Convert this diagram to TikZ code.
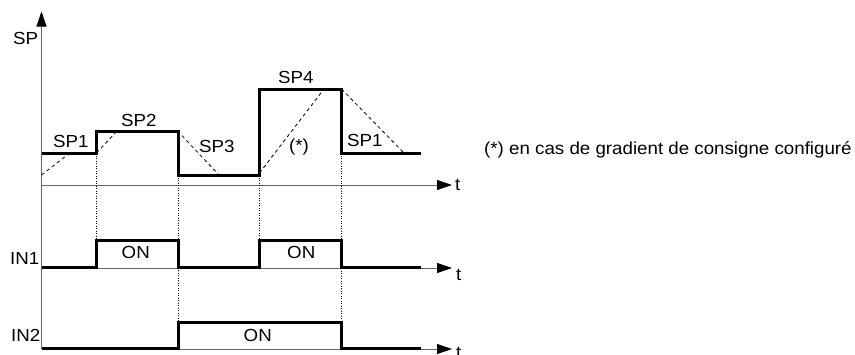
\documentclass[tikz,border=0pt]{standalone}
\usepackage{fontspec}
\setmainfont{Liberation Sans}
\usetikzlibrary{arrows.meta}

\begin{document}
\begin{tikzpicture}[x=1pt,y=-1pt,
  axis/.style={draw=black!60,line width=0.8pt,-{Triangle[length=15pt,width=10pt,color=black]}},
  signal/.style={line width=3pt,line join=miter},
  ramp/.style={line width=0.8pt,dash pattern=on 3.5pt off 3pt},
  guide/.style={line width=0.7pt,dash pattern=on 1pt off 1.5pt},
  lbl/.style={anchor=base west,inner sep=0pt,font=\fontsize{17.5}{20}\selectfont,xscale=1.07}]
  \useasboundingbox (0,0) rectangle (855,354);

  % axes
  \draw[axis] (41.5,349) -- (41.5,11.5);
  \foreach \ty in {185,268,349}
    \draw[axis] (41.5,\ty) -- (452,\ty);

  % guides between the diagrams
  \draw[guide] (96,153) -- (96,240.5);
  \draw[guide] (178,175) -- (178,322.5);
  \draw[guide] (259,175) -- (259,240.5);
  \draw[guide] (341,153) -- (341,322.5);

  % gradient ramps
  \draw[ramp] (41.5,175) -- (71,152);
  \draw[ramp] (96.5,153) -- (117,131);
  \draw[ramp] (177.5,131) -- (219,175);
  \draw[ramp] (259.5,173) -- (324,89);
  \draw[ramp] (341.5,89) -- (404,153);

  % signals
  \draw[signal] (41.5,153) -- (96,153) -- (96,131) -- (178,131) -- (178,175)
    -- (259,175) -- (259,89) -- (341,89) -- (341,153) -- (421,153);
  \draw[signal] (41.5,267.5) -- (96,267.5) -- (96,240.5) -- (178,240.5) -- (178,267.5)
    -- (259,267.5) -- (259,240.5) -- (341,240.5) -- (341,267.5) -- (421,267.5);
  \draw[signal] (41.5,348.5) -- (178,348.5) -- (178,322.5) -- (341,322.5)
    -- (341,348.5) -- (421,348.5);

  % labels
  \node[lbl] (sp) at (13,44) {SP};
  \node[lbl] (sp1a) at (53,147.5) {SP1};
  \node[lbl] (sp2) at (121,126) {SP2};
  \node[lbl] (sp3) at (199,152.5) {SP3};
  \node[lbl] (sp4) at (278,83.5) {SP4};
  \node[lbl] (grad) at (289,151) {(*)};
  \node[lbl] (sp1b) at (347,146) {SP1};
  \node[lbl] (note) at (484,154.5) {(*) en cas de gradient de consigne configuré};
  \node[lbl] (in1) at (10,264) {IN1};
  \node[lbl] (in2) at (11,341.5) {IN2};
  \node[lbl] (on1) at (121.5,258) {ON};
  \node[lbl] (on2) at (287,258) {ON};
  \node[lbl] (on3) at (243.5,341) {ON};
  \node[lbl] (t1) at (455,190) {t};
  \node[lbl] (t2) at (456,280) {t};
  \node[lbl] (t3) at (456,358) {t};
\end{tikzpicture}
\end{document}
